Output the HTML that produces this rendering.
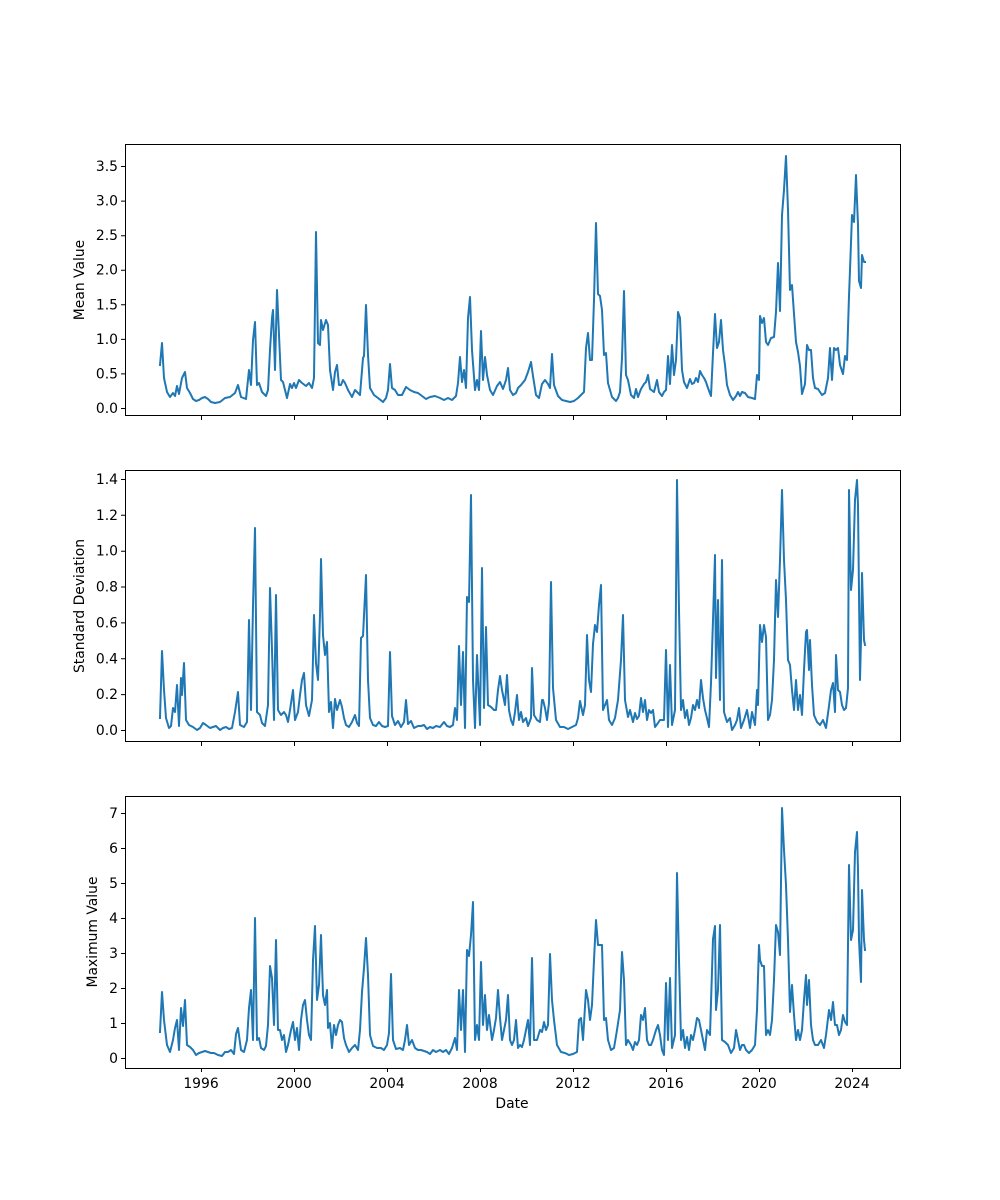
<!DOCTYPE html>
<html><head><meta charset="utf-8"><style>body{margin:0;background:#fff}svg{display:block}text{font-family:"DejaVu Sans","Liberation Sans",sans-serif;font-size:13.9px;fill:#000}</style></head><body>
<svg width="1000" height="1200" viewBox="0 0 1000 1200" xmlns="http://www.w3.org/2000/svg">
<g fill="none" stroke="#1f77b4" stroke-width="2" stroke-linejoin="round" stroke-linecap="square">
<polyline points="160,365 162,343 164,378 167,392 170,397 173,393 175,396 177,386 179,394 182,378 185,372 187,388 190,393 193,399 196,401 199,400 202,398 205,397 208,399 211,402 215,403 220,402 225,398 230,397 235,393 238,385 241,397 246,399 249,370 251,385 253,340 255,322 257,385 259,383 262,392 266,396 268,390 270,350 272,318 273,310 275,370 277,290 279,335 281,380 283,382 285,390 287,398 290,384 292,388 294,383 296,388 299,380 302,383 306,386 309,383 312,388 314,378 316,232 318,343 320,345 321,320 323,330 326,320 328,325 330,370 333,390 335,372 337,365 339,385 341,385 343,380 345,383 348,390 352,397 355,390 360,395 363,358 364,356 366,305 368,355 370,388 374,395 378,398 383,402 386,398 388,390 390,364 392,388 395,390 398,395 402,395 406,387 410,390 414,392 418,393 422,396 426,399 430,397 435,396 440,398 444,400 448,398 452,400 456,396 458,383 460,357 462,382 464,370 466,388 468,318 470,297 472,350 475,390 477,380 479,390 481,331 483,380 485,357 487,375 490,390 493,395 497,386 500,382 503,389 506,380 508,368 510,390 513,395 516,393 518,388 521,385 525,380 528,372 531,362 533,376 536,395 539,398 542,384 545,380 548,384 550,388 552,354 554,385 558,396 562,400 566,401 570,402 574,401 578,398 582,394 584,392 586,348 588,333 590,360 592,360 594,300 596,223 598,294 600,296 602,310 604,355 606,353 608,383 612,397 616,401 618,398 620,392 622,358 624,291 626,375 628,380 631,395 634,398 636,389 638,397 641,389 644,384 646,382 648,375 650,389 654,392 657,380 659,392 662,396 664,392 666,390 668,356 670,384 672,345 674,375 676,360 678,312 680,318 682,370 684,382 687,388 690,379 692,384 694,383 696,378 698,382 700,371 702,375 704,378 706,382 708,388 711,396 713,353 715,314 717,348 719,342 721,320 723,350 725,365 727,385 730,395 733,400 736,396 738,392 740,396 742,392 745,393 748,397 752,398 755,399 757,375 759,380 760,316 762,323 764,318 766,342 768,345 771,338 774,337 776,312 778,263 780,311 782,215 784,190 786,156 788,210 790,290 792,285 794,314 796,342 798,352 800,366 802,394 805,384 807,345 809,350 811,350 813,378 815,388 818,389 822,395 825,393 828,378 830,348 832,380 834,348 836,350 838,348 840,365 843,374 845,356 847,360 849,296 850,270 852,215 854,222 856,175 858,225 859,281 861,288 862,255 864,262 865,262"/>
<polyline points="160,718 162,651 164,690 166,718 169,728 171,726 173,708 175,712 177,685 179,726 181,678 182,695 184,663 186,720 189,725 193,727 197,730 200,728 203,723 206,725 210,728 213,727 216,726 220,730 223,728 226,727 229,729 232,728 235,712 238,692 240,725 244,727 247,722 249,620 251,710 253,606 255,528 257,712 260,715 262,723 265,726 268,705 270,588 272,650 274,720 276,595 278,710 281,715 284,712 286,715 288,722 290,710 293,690 295,720 298,712 300,695 302,680 304,673 306,705 309,716 312,700 314,615 316,663 318,680 320,615 321,559 323,635 325,655 327,642 329,712 331,702 333,728 335,699 337,710 340,700 342,707 344,718 346,725 349,727 352,722 355,715 357,723 359,726 361,638 363,636 366,575 368,680 370,718 373,725 376,726 379,722 382,726 385,727 388,726 390,652 392,716 395,725 398,721 401,727 404,722 406,700 408,724 411,721 414,728 418,726 421,726 424,725 427,729 430,727 433,728 436,726 440,727 444,722 447,726 450,727 453,725 455,708 457,720 459,646 461,705 463,652 465,728 467,597 469,602 471,495 473,680 475,728 477,655 480,725 482,568 484,708 486,627 488,705 491,707 494,710 496,710 498,690 500,676 502,690 505,705 507,675 509,710 511,720 513,725 515,712 517,695 519,720 521,712 523,722 526,718 528,726 531,718 532,668 534,715 537,720 540,722 542,700 543,700 545,708 547,720 549,703 551,582 553,688 556,720 560,727 564,727 568,729 572,727 576,725 578,718 580,701 583,715 585,705 587,635 589,680 591,692 593,644 595,625 597,632 599,605 601,585 603,710 605,705 607,700 609,720 612,725 615,718 618,700 621,660 623,615 625,700 628,717 630,710 633,722 635,713 637,719 639,716 641,698 643,712 645,700 647,720 649,710 651,713 653,710 655,727 658,723 660,720 662,720 664,720 666,650 668,727 670,665 672,725 675,710 677,480 679,610 681,710 683,700 685,718 687,710 689,725 691,718 693,705 695,710 697,700 699,708 701,680 703,698 705,710 707,718 709,727 711,683 713,620 715,555 716,678 718,600 720,700 722,560 724,712 727,722 730,718 732,730 735,725 737,720 739,708 741,728 744,720 747,710 750,728 752,712 755,725 757,690 758,705 760,625 762,642 764,625 766,637 768,720 770,715 772,700 774,660 776,580 778,617 780,560 782,490 784,560 786,600 788,660 790,665 792,690 794,710 796,680 798,710 800,695 802,715 804,670 806,632 807,630 809,670 810,640 812,685 814,715 817,722 820,725 823,720 826,728 829,706 831,690 833,683 835,712 836,655 838,690 840,692 842,705 844,710 846,708 848,688 849,490 851,590 853,570 855,500 857,480 858,505 860,680 861,640 862,573 864,640 865,645"/>
<polyline points="160,1032 162,992 164,1020 167,1045 170,1052 173,1040 175,1028 177,1020 179,1050 181,1008 183,1026 185,1000 187,1045 190,1047 193,1050 196,1055 199,1053 202,1052 205,1051 208,1052 211,1053 214,1053 218,1055 222,1056 225,1052 228,1052 231,1050 234,1054 236,1034 238,1028 241,1050 244,1052 247,1040 249,1008 251,990 253,1040 255,918 257,1040 259,1038 261,1048 264,1050 266,1046 268,1025 270,966 272,978 274,1025 276,940 278,1030 280,1030 282,1040 284,1035 286,1052 288,1045 291,1030 293,1022 295,1040 297,1028 299,1050 301,1020 303,1005 305,1000 307,1020 309,1035 311,1040 313,960 315,926 317,1000 319,985 321,935 323,995 325,1005 327,990 328,1028 330,1023 332,1048 334,1025 336,1035 338,1025 340,1020 342,1022 344,1038 346,1045 349,1052 352,1048 355,1045 358,1050 360,1030 362,992 364,968 366,938 368,975 370,1035 373,1046 377,1048 381,1048 384,1050 387,1045 389,1033 391,974 393,1040 396,1049 400,1048 403,1050 405,1040 407,1025 409,1045 412,1040 415,1048 418,1050 421,1050 424,1051 427,1052 430,1054 433,1050 436,1052 440,1050 443,1052 446,1050 449,1054 452,1048 455,1038 457,1050 459,990 461,1030 463,990 465,1052 467,950 469,956 471,935 473,902 475,1040 477,1025 479,1040 481,962 483,1025 485,995 487,1030 489,1015 492,1040 494,1030 496,1018 498,990 500,1018 502,1040 504,1030 506,1020 508,995 510,1040 512,1045 514,1040 516,1020 518,1048 520,1045 522,1047 524,1040 526,1030 528,1020 530,1045 532,958 534,1040 537,1040 540,1030 542,1032 544,1022 546,1030 548,1025 550,954 552,1000 554,1020 557,1045 561,1052 565,1053 569,1055 573,1054 577,1052 579,1020 581,1018 583,1040 586,990 588,1000 590,1020 592,1005 594,960 596,920 598,945 600,945 602,945 604,1020 606,1018 608,1040 611,1050 614,1048 617,1030 620,1010 622,952 624,980 626,1045 628,1040 631,1045 633,1050 635,1042 637,1045 639,1040 641,1015 643,1020 645,1008 647,1040 649,1045 651,1045 653,1040 656,1030 658,1025 660,1035 662,1050 664,1055 666,983 668,1040 670,978 672,1048 675,1035 677,873 679,960 681,1040 683,1030 685,1048 687,1037 689,1050 691,1035 693,1040 695,1030 697,1018 699,1020 701,1030 703,1040 705,1050 707,1030 710,1035 713,939 715,926 716,1010 718,990 720,925 722,1040 725,1042 728,1045 731,1053 734,1048 736,1030 738,1040 740,1050 742,1045 744,1045 746,1050 749,1053 752,1050 755,1045 757,1010 759,945 760,960 762,966 764,966 766,1035 768,1030 770,1035 772,1020 774,980 776,925 778,932 780,955 782,808 784,850 786,885 788,940 790,1012 792,985 794,1015 796,1040 798,1030 800,1040 802,1030 804,1000 806,975 807,1005 809,980 811,1025 813,1040 815,1045 818,1045 821,1040 824,1048 826,1035 829,1010 831,1020 833,1002 835,1025 837,1025 839,1035 841,1030 843,1015 845,1022 847,1025 849,865 851,940 853,930 855,852 857,832 858,870 859,940 861,982 862,890 864,940 865,950"/>
</g>
<g fill="none" stroke="#000" stroke-width="1">
<rect x="125.5" y="144.5" width="775" height="271"/>
<rect x="125.5" y="470.5" width="775" height="271"/>
<rect x="125.5" y="796.5" width="775" height="272"/>
<path d="M201.5,416v4M294.5,416v4M387.5,416v4M480.5,416v4M573.5,416v4M666.5,416v4M759.5,416v4M852.5,416v4
M201.5,742v4M294.5,742v4M387.5,742v4M480.5,742v4M573.5,742v4M666.5,742v4M759.5,742v4M852.5,742v4
M201.5,1068v4M294.5,1068v4M387.5,1068v4M480.5,1068v4M573.5,1068v4M666.5,1068v4M759.5,1068v4M852.5,1068v4
M121,408.5h4M121,373.9h4M121,339.4h4M121,304.8h4M121,270.2h4M121,235.7h4M121,201.1h4M121,166.5h4
M121,730.5h4M121,694.6h4M121,658.8h4M121,622.9h4M121,587h4M121,551.2h4M121,515.3h4M121,479.5h4
M121,1058.5h4M121,1023.5h4M121,988.5h4M121,953.5h4M121,918.5h4M121,883.5h4M121,848.5h4M121,813.5h4"/>
</g>
<g text-anchor="end">
<text x="118" y="413">0.0</text><text x="118" y="378.4">0.5</text><text x="118" y="343.9">1.0</text><text x="118" y="309.3">1.5</text><text x="118" y="274.7">2.0</text><text x="118" y="240.2">2.5</text><text x="118" y="205.6">3.0</text><text x="118" y="171">3.5</text>
<text x="118" y="735">0.0</text><text x="118" y="699.1">0.2</text><text x="118" y="663.3">0.4</text><text x="118" y="627.4">0.6</text><text x="118" y="591.5">0.8</text><text x="118" y="555.7">1.0</text><text x="118" y="519.8">1.2</text><text x="118" y="484">1.4</text>
<text x="118" y="1063">0</text><text x="118" y="1028">1</text><text x="118" y="993">2</text><text x="118" y="958">3</text><text x="118" y="923">4</text><text x="118" y="888">5</text><text x="118" y="853">6</text><text x="118" y="818">7</text>
</g>
<g text-anchor="middle">
<text x="201" y="1088">1996</text><text x="294" y="1088">2000</text><text x="387" y="1088">2004</text><text x="480" y="1088">2008</text><text x="573" y="1088">2012</text><text x="666" y="1088">2016</text><text x="759" y="1088">2020</text><text x="852" y="1088">2024</text>
<text x="512" y="1108">Date</text>
<text transform="translate(84,280) rotate(-90)">Mean Value</text>
<text transform="translate(84,606) rotate(-90)">Standard Deviation</text>
<text transform="translate(97,932) rotate(-90)">Maximum Value</text>
</g>
</svg>
</body></html>
